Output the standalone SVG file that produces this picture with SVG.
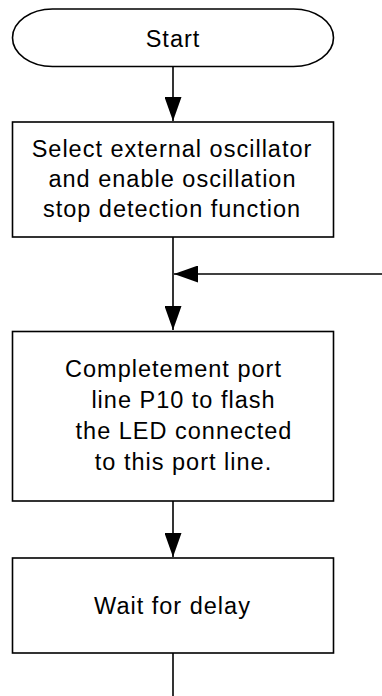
<svg xmlns="http://www.w3.org/2000/svg" width="382" height="696" viewBox="0 0 382 696">
  <defs>
    <marker id="arrow" markerUnits="userSpaceOnUse" markerWidth="24" markerHeight="17" refX="24" refY="8.5" orient="auto">
      <path d="M0,0 L24,8.5 L0,17 Z" fill="#000"/>
    </marker>
  </defs>
  <style>
    .shape { fill: #fff; stroke: #000; stroke-width: 1.6; }
    .conn { fill: none; stroke: #000; stroke-width: 1.6; }
    .lbl { font-family: "Liberation Sans", Arial, sans-serif; font-size: 23.5px; letter-spacing: 1px; fill: #000; text-anchor: middle; }
  </style>
  <rect width="382" height="696" fill="#fff"/>
  <g id="connectors">
    <line class="conn" x1="173" y1="66" x2="173" y2="121" marker-end="url(#arrow)"/>
    <line class="conn" x1="173" y1="237" x2="173" y2="330" marker-end="url(#arrow)"/>
    <line class="conn" x1="382" y1="274" x2="174" y2="274" marker-end="url(#arrow)"/>
    <line class="conn" x1="173" y1="501" x2="173" y2="557" marker-end="url(#arrow)"/>
    <line class="conn" x1="173" y1="653" x2="173" y2="696"/>
  </g>
  <g id="start">
    <rect class="shape" x="12.5" y="9" width="321" height="57.5" rx="40" ry="28.75"/>
    <text class="lbl" x="173" y="47">Start</text>
  </g>
  <g id="select-oscillator">
    <rect class="shape" x="12.5" y="122" width="321" height="115"/>
    <text class="lbl" x="172" y="157">Select external oscillator</text>
    <text class="lbl" x="172.5" y="187">and enable oscillation</text>
    <text class="lbl" x="172" y="217">stop detection function</text>
  </g>
  <g id="complement-port">
    <rect class="shape" x="12.5" y="331.5" width="321" height="169.5"/>
    <text class="lbl" x="173.5" y="377">Completement port</text>
    <text class="lbl" x="183.5" y="408">line P10 to flash</text>
    <text class="lbl" x="184" y="439">the LED connected</text>
    <text class="lbl" x="183.5" y="470">to this port line.</text>
  </g>
  <g id="wait-delay">
    <rect class="shape" x="12.5" y="558" width="321" height="95"/>
    <text class="lbl" x="172.5" y="614">Wait for delay</text>
  </g>
</svg>
